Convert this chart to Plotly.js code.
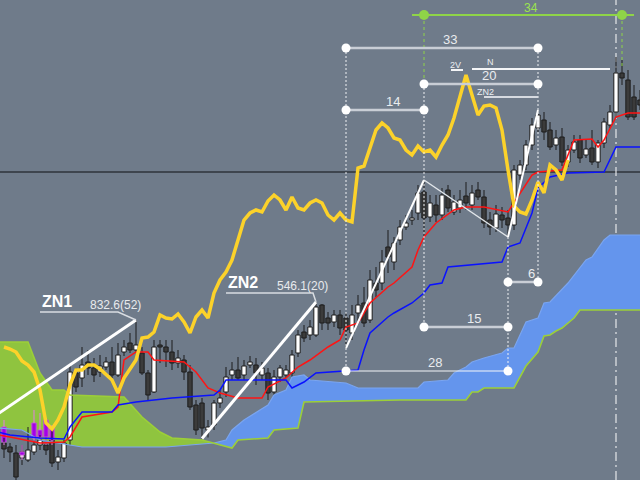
<!DOCTYPE html>
<html>
<head>
<meta charset="utf-8">
<script src="https://cdn.plot.ly/plotly-3.0.1.min.js"></script>
<style>
  html, body { margin: 0; padding: 0; background: #6f7b8a; }
  #chart { width: 640px; height: 480px; }
</style>
</head>
<body>
<div id="chart"></div>
<script>
// ---- price bars (bar index starts at FIRST_BAR) ----
const FIRST_BAR = 1;
const barOpen = [148,132,108,88,80,112,140,140,160,72,88,160,428,408,472,448,432,452,472,420,512,548,520,
  508,428,352,540,532,512,468,480,432,300,308,200,220,308,352,420,440,420,460,460,420,428,352,412,420,
  428,508,592,580,580,700,648,632,660,648,588,668,708,640,788,788,932,872,960,1012,1040,1068,1152,1052,1100,
  1060,1160,1072,1088,1136,1100,1160,1132,1040,1008,1060,1048,1020,1220,1260,1340,1408,1440,1400,1340,
  1372,1272,1320,1360,1300,1328,1272,1348,1420,1472,1628,1600,1532,1520];
const barHigh = [168,148,140,140,212,160,180,172,200,120,160,460,448,532,520,488,500,492,532,548,560,588,640,
  532,440,560,560,560,560,520,500,460,320,328,240,320,360,452,472,492,480,496,488,472,448,440,460,460,
  520,600,620,640,712,704,672,680,680,668,700,740,772,840,852,920,1000,972,1040,1060,1080,1180,1200,1140,1140,
  1168,1180,1140,1160,1192,1180,1192,1160,1072,1100,1092,1080,1260,1280,1360,1448,1480,1472,1432,1400,
  1408,1340,1380,1380,1360,1400,1360,1448,1500,1692,1680,1640,1580,1560];
const barLow = [88,72,0,60,72,100,120,100,52,40,72,140,352,372,420,392,412,440,408,412,496,508,508,
  420,320,348,468,452,440,448,400,280,180,165.9,170,200,288,332,400,400,400,448,380,400,320,340,392,408,
  412,492,552,560,572,600,600,612,580,528,560,628,612,628,732,760,828,840,940,1000,1020,1040,972,1032,1032,
  1040,1072,1060,1068,1080,1080,1120,1008,980,992,1008,972,1000,1200,1240,1320,1392,1360,1320,1320,
  1256,1252,1308,1268,1288,1260,1248,1328,1408,1448,1580,1440,1440,1480];
const barClose = [124,112,12,112,120,140,160,120,68,92,148,432,372,460,448,420,456,472,420,500,532,520,540,
  428,340,532,532,512,468,488,432,292,200,208,212,308,328,412,440,408,456,472,428,448,348,412,448,440,
  500,580,568,612,692,628,628,660,608,600,660,700,628,800,760,872,892,948,1012,1028,1048,1148,1048,1108,1060,
  1140,1088,1112,1120,1108,1148,1132,1028,1012,1064,1040,1020,1240,1260,1340,1420,1460,1392,1332,1368,
  1272,1320,1352,1288,1324,1272,1348,1432,1472,1628,1608,1452,1452,1500];

// signal bars painted violet
const sigBars  = [1, 4, 6, 7, 8, 9];
const sigOpen  = [212, 100, 168, 172, 172, 160];
const sigHigh  = [240, 140, 280, 268, 248, 220];
const sigLow   = [140, 80, 152, 160, 140, 140];
const sigClose = [152, 112, 228, 200, 240, 212];

// ---- Ichimoku lines (bar, value) ----
const tenkanX = [0,2,7,11,12,14,19,20,21,23,25,26,31,33,35,37,40,44,45,48,50,52,55,57,58,60,62,65,66,69,70,71,73,76,78,81,85,86,89,90,94,96,99,100,101,103,105,107];
const tenkanY = [180,172,148,152,172,252,272,292,480,512,512,480,472,432,368,348,328,328,372,408,452,480,532,560,612,628,708,772,788,852,920,972,1028,1080,1092,1092,1072,1108,1220,1232,1240,1360,1364,1332,1360,1452,1468,1468];
const kijunX = [0,2,7,11,12,14,19,20,23,29,36,37,38,48,49,51,53,60,61,62,65,66,69,71,72,74,75,84,85,87,89,90,92,95,101,103,107];
const kijunY = [192,180,168,164,212,272,272,300,312,328,340,360,400,400,368,392,428,440,520,588,652,668,708,748,780,788,852,872,932,948,1068,1168,1212,1228,1232,1332,1332];
const spanAX = [0,4,7,14,28,36,38,39,41,45,46,48,49,51,52,58,60,70,71,75,76,78,79,81,84,85,86,88,90,91,92,95,98,99,101,102,107];
const spanAY = [208,200,160,132,132,148,160,200,240,300,340,360,412,420,400,388,368,368,392,400,428,452,472,488,508,528,528,632,648,708,712,788,880,892,960,980,980];
const spanBX = [0,5,7,9,11,12,21,24,27,29,34,36,37,39,40,45,46,50,51,67,78,79,80,81,86,88,90,91,92,93,94,96,97,107];
const spanBY = [552,552,428,360,360,340,332,252,192,168,160,148,140,128,160,168,200,208,312,320,320,352,352,368,368,456,512,576,580,596,608,648,680,680];
const CLOUD_TWIST = 36;   // bar where the cloud changes colour

// ---- oscillator overlay (bars 1..95) ----
const OSC_FIRST = 1;
const oscValue = [532,524,512,476,460,432,360,228,204,240,292,380,440,440,460,460,444,424,400,348,408,444,480,568,572,592,660,
  648,644,664,632,588,652,680,648,748,800,832,880,960,1040,1068,1080,1072,1116,1140,1120,1080,1132,1088,1080,1108,1120,1108,
  1060,1040,1068,1040,1032,1248,1256,1328,1400,1428,1408,1368,1360,1320,1300,1336,1312,1320,1292,1340,1380,1448,1532,1620,
  1540,1460,1496,1500,1488,1400,1240,1096,1072,1064,1120,1192,1148,1260,1240,1200,1280];

// ---- zones: end bar, move in points, bar count ----
const znName  = ['ZN1', 'ZN2'];
const znEnd   = [23, 53];
const znMove  = [832.6, 546.1];
const znCount = [52, 20];

// ---- swing pivots A, B, D, C ----
const swingBar  = [58, 71, 85, 90];
const swingKind = ['low', 'high', 'low', 'high'];

// ---- bar-count measurements ----
const measFrom  = [58, 58, 71, 71, 85, 71, 58];
const measTo    = [90, 71, 90, 104, 90, 85, 85];
const measLevel = [1728, 1480, 1584, 1860, 792, 612, 436];

// ---- tag marks ----
const tagText  = ['2V', 'N', 'ZN2'];
const tagBar   = [76.2, 82, 81.2];
const tagLevel = [1660, 1672, 1552];
const tagLineFrom  = [75.5, 79, 81];
const tagLineTo    = [77.5, 102, 90];
const tagLineLevel = [1640, 1644, 1532];

const currentLevel = 1232;
const NOW_BAR = 103;

// ---------------------------------------------------------------
const BG = '#6f7b8a';
const FONT = 'Liberation Sans, Arial, sans-serif';
const traces = [];
const shapes = [];
const annotations = [];

// candles: bodies as floating bars, wicks as line segments outside the body
function candles(xs, o, h, l, c, upFill, downFill, edge, wick) {
  const top = o.map((v, i) => Math.max(v, c[i]));
  const bot = o.map((v, i) => Math.min(v, c[i]));
  traces.push({
    type: 'bar', x: xs, base: bot, y: top.map((t, i) => t - bot[i]), width: 0.72,
    marker: { color: o.map((v, i) => c[i] >= v ? upFill : downFill), line: { color: edge, width: 1 } },
    hoverinfo: 'skip'
  });
  const wx = [], wy = [];
  xs.forEach((x, i) => {
    wx.push(x, x, null, x, x, null);
    wy.push(h[i], top[i], null, bot[i], l[i], null);
  });
  return { type: 'scatter', mode: 'lines', x: wx, y: wy, hoverinfo: 'skip', line: { color: wick, width: 1 } };
}
const bars = barOpen.map((_, i) => i + FIRST_BAR);
const mainWicks = candles(bars, barOpen, barHigh, barLow, barClose, '#ffffff', '#3b3b3b', '#1c1c1c', '#1c1c1c');
const sigWicks = candles(sigBars, sigOpen, sigHigh, sigLow, sigClose, '#a300e8', '#a300e8', '#c24fd8', '#e27ce2');
traces.push(mainWicks, sigWicks);

// cloud polygons
function pts(xs, ys, keep) { return xs.map((x, i) => [x, ys[i]]).filter(p => keep(p[0])); }
function pathOf(lower, upper) {
  const all = lower.concat(upper.slice().reverse());
  return all.map((p, i) => (i ? 'L' : 'M') + p[0] + ',' + p[1]).join('') + 'Z';
}
const left = x => x <= CLOUD_TWIST, right = x => x >= CLOUD_TWIST;
shapes.push({ type: 'path', xref: 'x', yref: 'y', layer: 'below', line: { width: 0 }, fillcolor: '#8fc43f',
  path: pathOf(pts(spanAX, spanAY, left), pts(spanBX, spanBY, left)) });
shapes.push({ type: 'path', xref: 'x', yref: 'y', layer: 'below', line: { width: 0 }, fillcolor: '#6495ed',
  path: pathOf(pts(spanBX, spanBY, right), pts(spanAX, spanAY, right)) });
shapes.push({ type: 'line', xref: 'paper', yref: 'y', x0: 0, x1: 1, y0: currentLevel, y1: currentLevel,
  layer: 'below', line: { color: '#3e454e', width: 2 } });
shapes.push({ type: 'line', xref: 'x', yref: 'paper', x0: NOW_BAR, x1: NOW_BAR, y0: 0, y1: 1,
  layer: 'below', line: { color: '#e4e6e9', width: 1.2, dash: '9px,4px,2px,4px' } });

function line(x, y, color, width, dash) {
  traces.push({ type: 'scatter', mode: 'lines', x: x, y: y, hoverinfo: 'skip',
    line: { color: color, width: width, dash: dash || 'solid' } });
}
line(spanAX, spanAY, '#7aa5f0', 1.2);
line(spanBX, spanBY, '#9ccf38', 1.6);
line(tenkanX, tenkanY, '#ff1414', 1.5);
line(kijunX, kijunY, '#0a12ff', 1.5);
line(oscValue.map((_, i) => i + OSC_FIRST), oscValue, '#fcd22a', 3.5);

// zones
const znLabel = [ { name: 7, value: 15, ulFrom: 7, ulTo: 20, ulUp: 32 },
                  { name: 38, value: 46.2, ulFrom: 38, ulTo: 52.5, ulUp: 36 } ];
znName.forEach((nm, k) => {
  const e = znEnd[k], top = barHigh[e - FIRST_BAR];
  const s = e - (znCount[k] - 1), bottom = top - znMove[k];
  line([s, e], [bottom, top], '#ffffff', 3);
  const L = znLabel[k], ul = top + L.ulUp;
  line([L.ulFrom, L.ulTo, e], [ul, ul, top], '#d9dde2', 1.5);
  annotations.push({ x: L.name, y: ul, xanchor: 'left', yanchor: 'bottom', text: '<b>' + nm + '</b>',
    showarrow: false, font: { family: FONT, size: 16, color: '#ffffff' } });
  annotations.push({ x: L.value, y: ul, xanchor: 'left', yanchor: 'bottom', yshift: -2,
    text: znMove[k].toFixed(1) + '(' + znCount[k] + ')',
    showarrow: false, font: { family: FONT, size: 12, color: '#e8eaed' } });
});

// swing structure
const swingPrice = swingBar.map((b, i) => swingKind[i] === 'low' ? barLow[b - FIRST_BAR] : barHigh[b - FIRST_BAR]);
line(swingBar.slice(0, 2), swingPrice.slice(0, 2), '#ffffff', 2);
line(swingBar.slice(1, 3), swingPrice.slice(1, 3), '#e2e6ea', 1.5);
line(swingBar.slice(2, 4), swingPrice.slice(2, 4), '#ffffff', 2);

// vertical guides
const vertBar    = [58, 71, 71, 85, 90, 104];
const vertTop    = [1728, 1860, 1584, 972, 1728, 1860];
const vertBottom = [436, 1584, 612, 436, 792, 1644];
const vertGreen  = [false, true, false, false, false, true];
vertBar.forEach((b, i) => line([b, b], [vertTop[i], vertBottom[i]],
  vertGreen[i] ? '#8fd448' : '#f0f2f4', 1, vertGreen[i] ? 'dot' : '2px,2px'));

// tags
tagLineFrom.forEach((f, i) => line([f, tagLineTo[i]], [tagLineLevel[i], tagLineLevel[i]], i < 2 ? '#f4f5f7' : '#d6dae0', 2));
tagText.forEach((t, i) => annotations.push({ x: tagBar[i], y: tagLevel[i], text: t, showarrow: false,
  font: { family: FONT, size: 9, color: '#eceef1' } }));

// measurements
measFrom.forEach((f, i) => {
  const t = measTo[i], y = measLevel[i];
  const green = i === 3, thin = i === 6;
  if (green) line([f - 2, t + 2], [y, y], '#8fd448', 2);
  else line([f, t], [y, y], thin ? '#f4f6f8' : '#c9ced6', thin ? 1 : 2.5);
  traces.push({ type: 'scatter', mode: 'markers', x: [f, t], y: [y, y], hoverinfo: 'skip',
    marker: { size: green ? 10 : 9, color: green ? '#8fd448' : '#ffffff' } });
  annotations.push({ x: (f + t) / 2, y: y, xshift: 8, yanchor: green ? 'middle' : 'bottom',
    yshift: green ? 7 : 0, borderpad: 0, text: String(t - f + 1),
    showarrow: false, font: { family: FONT, size: green ? 12 : 13, color: green ? '#9be34f' : '#e9ecef' } });
});

const layout = {
  width: 640, height: 480, margin: { l: 0, r: 0, t: 0, b: 0 },
  paper_bgcolor: BG, plot_bgcolor: BG, showlegend: false, barmode: 'overlay',
  xaxis: { range: [1 / 3, 107], visible: false, fixedrange: true },
  yaxis: { range: [0, 1920], visible: false, fixedrange: true },
  shapes: shapes, annotations: annotations
};
Plotly.newPlot('chart', traces, layout, { staticPlot: true });
</script>
</body>
</html>
